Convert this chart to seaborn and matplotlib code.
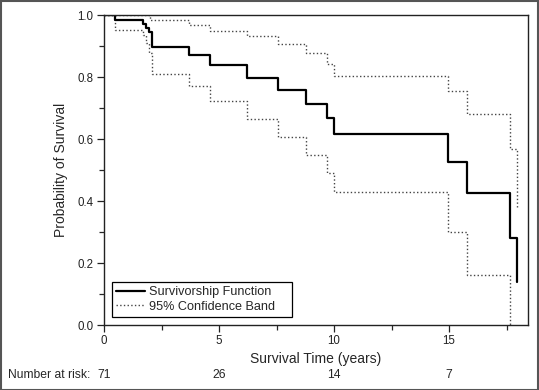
import pandas as pd
import seaborn as sns
import matplotlib
matplotlib.use('Agg')
import matplotlib.pyplot as plt
from matplotlib.ticker import MultipleLocator
from matplotlib.lines import Line2D
from matplotlib.patches import Rectangle
import matplotlib.transforms as mtrans

# Kaplan-Meier estimate
km_time = [0, 0.48, 1.71, 1.81, 1.96, 2.07, 3.70, 4.60, 6.20, 7.58, 8.78, 9.68, 10.0, 14.97, 15.77, 17.65, 17.97]
km_surv = [1.0, 0.984, 0.972, 0.958, 0.944, 0.897, 0.870, 0.838, 0.798, 0.758, 0.712, 0.667, 0.616, 0.527, 0.425, 0.281, 0.14]

# 95% confidence band
up_time = [0, 2.0, 3.70, 4.60, 6.20, 7.58, 8.78, 9.68, 10.0, 14.97, 15.77, 17.65, 17.97]
up_surv = [1.0, 0.984, 0.968, 0.949, 0.932, 0.905, 0.876, 0.842, 0.803, 0.756, 0.681, 0.568, 0.382]

lo_time = [0, 0.48, 1.71, 1.81, 1.96, 2.07, 3.70, 4.60, 6.20, 7.58, 8.78, 9.68, 10.0, 14.97, 15.77, 17.65]
lo_surv = [1.0, 0.951, 0.935, 0.91, 0.878, 0.811, 0.770, 0.724, 0.665, 0.607, 0.548, 0.489, 0.43, 0.301, 0.161, 0.0]

# Number at risk
risk_time = [0, 5, 10, 15]
risk_n = [71, 26, 14, 7]

km_df = pd.DataFrame({'time': km_time, 'surv': km_surv})
up_df = pd.DataFrame({'time': up_time, 'surv': up_surv})
lo_df = pd.DataFrame({'time': lo_time, 'surv': lo_surv})

sns.set_style('ticks')
plt.rcParams['font.family'] = ['Liberation Sans', 'DejaVu Sans']

fig = plt.figure(figsize=(5.39, 3.9), dpi=100)
ax = fig.add_axes([104 / 539, 1 - 325 / 390, 424 / 539, 310 / 390])

sns.lineplot(data=up_df, x='time', y='surv', ax=ax, color='#444444', lw=1.0,
             linestyle=':', drawstyle='steps-post', estimator=None)
sns.lineplot(data=lo_df, x='time', y='surv', ax=ax, color='#444444', lw=1.0,
             linestyle=':', drawstyle='steps-post', estimator=None)
sns.lineplot(data=km_df, x='time', y='surv', ax=ax, color='black', lw=1.6,
             drawstyle='steps-post', estimator=None)

ax.set_xlim(0, 18.43)
ax.set_ylim(0, 1.0)
ax.xaxis.set_major_locator(MultipleLocator(5))
ax.xaxis.set_minor_locator(MultipleLocator(2.5))
ax.yaxis.set_major_locator(MultipleLocator(0.2))
ax.yaxis.set_minor_locator(MultipleLocator(0.1))
ax.yaxis.set_major_formatter(matplotlib.ticker.FormatStrFormatter('%.1f'))
ax.tick_params(which='major', direction='out', length=5, width=0.9, labelsize=8.3, pad=2.5, colors='#222222')
ax.tick_params(which='minor', direction='out', length=3.5, width=0.9)
for s in ax.spines.values():
    s.set_visible(True)
    s.set_linewidth(1.0)
    s.set_color('#222222')

ax.set_xlabel('Survival Time (years)', fontsize=10, labelpad=3)
ax.set_ylabel('Probability of Survival', fontsize=10, labelpad=7)

handles = [Line2D([], [], color='black', lw=1.6),
           Line2D([], [], color='#444444', lw=1.0, linestyle=':')]
leg = ax.legend(handles, ['Survivorship Function', '95% Confidence Band'],
                loc='lower left', bbox_to_anchor=(0.018, 0.027, 180 / 424, 0.1), mode='expand',
                borderaxespad=0, fontsize=9.1, handlelength=2.3, handletextpad=0.3,
                borderpad=0.32, labelspacing=0.2, fancybox=False, framealpha=1, edgecolor='black')
leg.get_frame().set_linewidth(0.9)

# number at risk row
tr = mtrans.blended_transform_factory(ax.transData, fig.transFigure)
fig.text(8 / 539, 1 - 375 / 390, 'Number at risk:', fontsize=8.7, va='center', ha='left')
for t, n in zip(risk_time, risk_n):
    ax.text(t, 1 - 375 / 390, str(n), transform=tr, fontsize=8.7, va='center', ha='center')

# outer frame
fig.patches.append(Rectangle((0.001, 0.001), 0.998, 0.997, transform=fig.transFigure,
                             fill=False, edgecolor='#555555', lw=1.5))

fig.savefig('out.png', dpi=100)
